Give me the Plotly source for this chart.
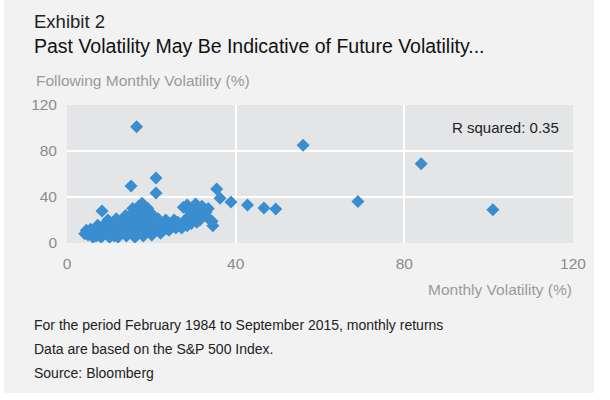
import plotly.graph_objects as go

# monthly volatility (%) -> following month volatility (%)
past_vol = [
	4.2, 4.6, 5.0, 5.3, 5.6, 5.9, 4.8,
	6.2, 6.4, 6.7, 7.0, 7.3, 7.6, 7.9, 6.9,
	8.1, 8.3, 8.5, 8.7, 8.9, 9.2, 9.4, 9.7, 9.9, 9.5, 8.3,
	10.1, 10.3, 10.5, 10.7, 10.9, 11.1, 11.3, 11.5, 11.7, 11.9, 10.6, 11.2,
	12.1, 12.3, 12.5, 12.7, 12.9, 13.1, 13.3, 13.5, 13.7, 13.9, 12.4, 13.2,
	14.1, 14.3, 14.5, 14.7, 14.9, 15.1, 15.3, 15.5, 15.7, 15.9, 15.6, 14.4, 15.2,
	16.1, 16.3, 16.5, 16.7, 16.9, 17.1, 17.3, 17.5, 17.7, 17.0, 17.8, 16.4, 16.5,
	18.1, 18.3, 18.5, 18.7, 18.9, 19.1, 19.3, 19.5, 19.2, 19.8,
	20.1, 20.4, 20.7, 21.0, 21.3, 21.6, 21.9, 21.1, 21.1, 20.5,
	22.2, 22.5, 22.8, 23.1, 23.4, 23.7,
	24.2, 24.6, 25.0, 25.4, 25.8, 26.3, 26.7,
	27.2, 27.6, 28.0, 28.5, 29.0, 29.5, 28.3,
	27.6, 28.5, 29.5, 30.5, 31.0, 29.2, 32.0, 33.5, 30.2, 32.5, 33.4, 34.4, 34.6, 31.5, 33.0, 30.8,
	35.5, 36.3, 38.9, 42.8, 46.7, 49.5, 56.0, 69.0, 84.0, 101.0,
]
next_vol = [
	8, 11, 7, 9.5, 12, 6, 9,
	5, 8, 10.5, 13, 15.5, 7, 11, 6,
	5, 7.5, 9, 12, 14, 16.5, 18, 20, 6, 10.5, 27.8,
	5, 7, 9, 11, 13, 15, 17, 19, 21, 8, 12.5, 6,
	5, 8, 10, 12, 14, 16, 18, 20, 22.5, 24, 9, 13,
	6, 8, 11, 13, 15, 17, 19, 22, 25, 27, 30, 10, 49.5,
	5, 7, 10, 12, 15, 18, 21, 24, 28, 32, 34.5, 9, 101,
	6, 8, 11, 14, 17, 20, 23, 27, 30, 12,
	7, 9, 12, 15, 18, 21, 10, 43.5, 56.5, 24,
	8.5, 11, 14, 17, 20, 12.5,
	11, 14, 17, 20, 13, 18, 15,
	13, 16, 19, 15, 22, 17, 21,
	31, 33, 30, 34, 28, 27, 32, 30, 25, 24, 22, 19, 15, 20, 27, 18,
	47, 39, 35.6, 33, 30.4, 29.6, 85, 36, 69, 29,
]

axis_ticks = [0, 40, 80, 120]
r_squared = 0.35

footnotes = [
	"For the period February 1984 to September 2015, monthly returns",
	"Data are based on the S&P 500 Index.",
	"Source: Bloomberg",
]

FONT = "Liberation Sans"
PANEL = "#f2f2f2"

def main():
	fig = build_figure()
	# drop the page's default body margin so the figure sits at 0,0
	fig.write_html("out.html", config={"displayModeBar": False},
		post_script="document.body.style.margin='0';")

def build_figure():
	trace = go.Scatter(
		x=past_vol,
		y=next_vol,
		mode="markers",
		marker=dict(symbol="diamond", size=10, color="#3a8ecf", line_width=0),
		hoverinfo="x+y",
		showlegend=False,
	)

	layout = go.Layout(
		width=610,
		height=400,
		margin=dict(l=67, r=37, t=105, b=157),
		paper_bgcolor=PANEL,
		plot_bgcolor="#e4e5e7",
		font=dict(family=FONT, color="#8c8c8c", size=15.5),
		xaxis=dict(
			range=[0, 120], tickvals=axis_ticks, showgrid=True,
			gridcolor="white", gridwidth=2, zeroline=False, showline=False,
			ticklabelstandoff=9, fixedrange=True,
		),
		yaxis=dict(
			range=[0, 120], tickvals=axis_ticks, showgrid=True,
			gridcolor="white", gridwidth=2, zeroline=False, showline=False,
			ticklabelstandoff=9, fixedrange=True,
		),
	)
	fig = go.Figure(data=[trace], layout=layout)

	def to_px_x(x):
		return (x - 67) / 506

	def to_px_y(y):
		return (243 - y) / 138

	# white page around the grey panel
	for x0, x1, y0, y1 in [(594, 620, -10, 410), (-10, 4, -10, 410), (-10, 620, 393, 410)]:
		fig.add_shape(type="rect", xref="paper", yref="paper",
			x0=to_px_x(x0), x1=to_px_x(x1), y0=to_px_y(y1), y1=to_px_y(y0),
			fillcolor="white", line_width=0, layer="below")

	def px_note(text, x, y, size, color, xanchor="left"):
		fig.add_annotation(text=text, xref="paper", yref="paper",
			x=to_px_x(x), y=to_px_y(y), xanchor=xanchor, yanchor="middle",
			showarrow=False, font=dict(family=FONT, size=size, color=color))

	px_note("Exhibit 2", 32, 21, 18.5, "#222222")
	px_note("Past Volatility May Be Indicative of Future Volatility...", 32, 46, 19.5, "#111111")
	px_note("Following Monthly Volatility (%)", 34, 80, 15.5, "#9a9a9a")
	px_note("Monthly Volatility (%)", 574, 289, 15.5, "#9a9a9a", xanchor="right")
	px_note("R squared: %.2f" % r_squared, 561, 127, 15, "#222222", xanchor="right")
	for i, line in enumerate(footnotes):
		px_note(line, 32, 325 + i * 24, 14, "#222222")

	return fig

if __name__ == '__main__':
	main()
